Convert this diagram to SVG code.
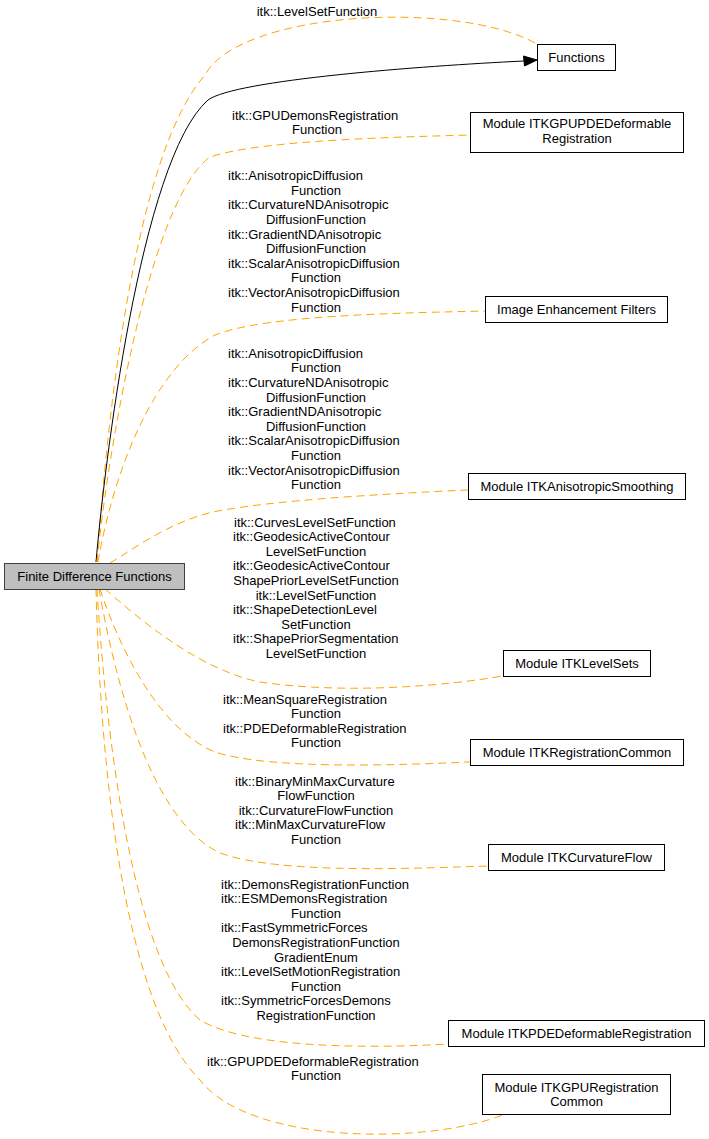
<svg xmlns="http://www.w3.org/2000/svg" width="709" height="1139" viewBox="0 0 709 1139">
<style>
text{font-family:"Liberation Sans",Arial,Helvetica,sans-serif;font-size:13px;fill:#000}
.m{text-anchor:middle}
.box{fill:#fff;stroke:#000;stroke-width:1}
.root{fill:#bfbfbf;stroke:#404040;stroke-width:1}
.dep{fill:none;stroke:#ffa500;stroke-width:1;stroke-dasharray:8,5}
.sol{fill:none;stroke:#000;stroke-width:1}
</style>
<rect width="709" height="1139" fill="#fff"/>
<g id="connectors">
<path class="dep" d="M97,562 C105,450 130,160 205,75 C240,10 460,0 537,44"/>
<path class="sol" d="M96,562 C104,470 140,160 208,100 C235,80 420,66 524,61"/>
<polygon points="523.5,56 537,60 524.5,66" fill="#000" stroke="#000"/>
<path class="dep" d="M97,562 C108,450 150,200 210,157 C260,140 400,137 470,135"/>
<path class="dep" d="M98,562 C112,480 150,370 215,335 C265,315 400,313 485,311"/>
<path class="dep" d="M110,563 C135,548 170,522 213,512 C270,500 400,493 468,490"/>
<path class="dep" d="M105,589 C140,620 200,670 260,682 C350,695 450,685 503,676"/>
<path class="dep" d="M100,589 C120,650 160,730 215,752 C270,770 400,765 470,762"/>
<path class="dep" d="M99,589 C115,680 150,820 220,853 C280,875 420,868 489,866"/>
<path class="dep" d="M97,589 C105,720 130,960 200,1020 C250,1050 380,1048 448,1044"/>
<path class="dep" d="M96,589 C100,750 120,1000 200,1080 C250,1145 430,1145 505,1114"/>
</g>
<g id="labels">
<text class="m" x="317" y="16">itk::LevelSetFunction</text>
<text x="232" y="119.5">itk::GPUDemonsRegistration</text>
<text class="m" x="317" y="134">Function</text>
<text x="228" y="180">itk::AnisotropicDiffusion</text>
<text class="m" x="316" y="194.8">Function</text>
<text x="228" y="209.4">itk::CurvatureNDAnisotropic</text>
<text class="m" x="316" y="224">DiffusionFunction</text>
<text x="228" y="238.6">itk::GradientNDAnisotropic</text>
<text class="m" x="316" y="253.2">DiffusionFunction</text>
<text x="228" y="267.8">itk::ScalarAnisotropicDiffusion</text>
<text class="m" x="316" y="282.4">Function</text>
<text x="228" y="297">itk::VectorAnisotropicDiffusion</text>
<text class="m" x="316" y="311.6">Function</text>
<text x="228" y="357.8">itk::AnisotropicDiffusion</text>
<text class="m" x="316" y="372.4">Function</text>
<text x="228" y="387">itk::CurvatureNDAnisotropic</text>
<text class="m" x="316" y="401.6">DiffusionFunction</text>
<text x="228" y="416.2">itk::GradientNDAnisotropic</text>
<text class="m" x="316" y="430.8">DiffusionFunction</text>
<text x="228" y="445.4">itk::ScalarAnisotropicDiffusion</text>
<text class="m" x="316" y="460">Function</text>
<text x="228" y="474.6">itk::VectorAnisotropicDiffusion</text>
<text class="m" x="316" y="489.2">Function</text>
<text x="234" y="526.5">itk::CurvesLevelSetFunction</text>
<text x="233" y="541.1">itk::GeodesicActiveContour</text>
<text class="m" x="316" y="555.7">LevelSetFunction</text>
<text x="233" y="570.3">itk::GeodesicActiveContour</text>
<text class="m" x="316" y="584.9">ShapePriorLevelSetFunction</text>
<text class="m" x="316" y="599.5">itk::LevelSetFunction</text>
<text x="233" y="614.1">itk::ShapeDetectionLevel</text>
<text class="m" x="316" y="628.7">SetFunction</text>
<text x="233" y="643.3">itk::ShapePriorSegmentation</text>
<text class="m" x="316" y="657.9">LevelSetFunction</text>
<text x="223" y="703.5">itk::MeanSquareRegistration</text>
<text class="m" x="316" y="718.1">Function</text>
<text x="223" y="732.7">itk::PDEDeformableRegistration</text>
<text class="m" x="316" y="747.3">Function</text>
<text x="235" y="785.5">itk::BinaryMinMaxCurvature</text>
<text class="m" x="316" y="800.1">FlowFunction</text>
<text class="m" x="316" y="814.7">itk::CurvatureFlowFunction</text>
<text x="235" y="829.3">itk::MinMaxCurvatureFlow</text>
<text class="m" x="316" y="843.9">Function</text>
<text x="221" y="888.5">itk::DemonsRegistrationFunction</text>
<text x="221" y="903.1">itk::ESMDemonsRegistration</text>
<text class="m" x="316" y="917.7">Function</text>
<text x="221" y="932.3">itk::FastSymmetricForces</text>
<text class="m" x="316" y="946.9">DemonsRegistrationFunction</text>
<text class="m" x="316" y="961.5">GradientEnum</text>
<text x="221" y="976.1">itk::LevelSetMotionRegistration</text>
<text class="m" x="316" y="990.7">Function</text>
<text x="221" y="1005.3">itk::SymmetricForcesDemons</text>
<text class="m" x="316" y="1019.9">RegistrationFunction</text>
<text x="207" y="1065.5">itk::GPUPDEDeformableRegistration</text>
<text class="m" x="316" y="1080.1">Function</text>
</g>
<g id="node-root"><rect class="root" x="4.5" y="563.5" width="180" height="26"/><text class="m" x="94.5" y="581">Finite Difference Functions</text></g>
<g id="node-functions"><rect class="box" x="537.5" y="44.5" width="78" height="26"/><text class="m" x="576.5" y="62">Functions</text></g>
<g id="node-gpupde"><rect class="box" x="470.5" y="112.5" width="213" height="40"/><text class="m" x="577" y="128">Module ITKGPUPDEDeformable</text><text class="m" x="577" y="142.5">Registration</text></g>
<g id="node-enh"><rect class="box" x="485.5" y="296.5" width="182" height="26"/><text class="m" x="576.5" y="314">Image Enhancement Filters</text></g>
<g id="node-aniso"><rect class="box" x="468.5" y="473.5" width="217" height="26"/><text class="m" x="577" y="491">Module ITKAnisotropicSmoothing</text></g>
<g id="node-levelsets"><rect class="box" x="503.5" y="650.5" width="147" height="26"/><text class="m" x="577" y="668">Module ITKLevelSets</text></g>
<g id="node-regcommon"><rect class="box" x="470.5" y="739.5" width="213" height="26"/><text class="m" x="577" y="757">Module ITKRegistrationCommon</text></g>
<g id="node-curvflow"><rect class="box" x="488.5" y="844.5" width="176" height="26"/><text class="m" x="576.5" y="862">Module ITKCurvatureFlow</text></g>
<g id="node-pde"><rect class="box" x="448.5" y="1020.5" width="256" height="26"/><text class="m" x="576.5" y="1038">Module ITKPDEDeformableRegistration</text></g>
<g id="node-gpureg"><rect class="box" x="482.5" y="1074.5" width="188" height="40"/><text class="m" x="576.5" y="1091.5">Module ITKGPURegistration</text><text class="m" x="576.5" y="1106">Common</text></g>
</svg>
